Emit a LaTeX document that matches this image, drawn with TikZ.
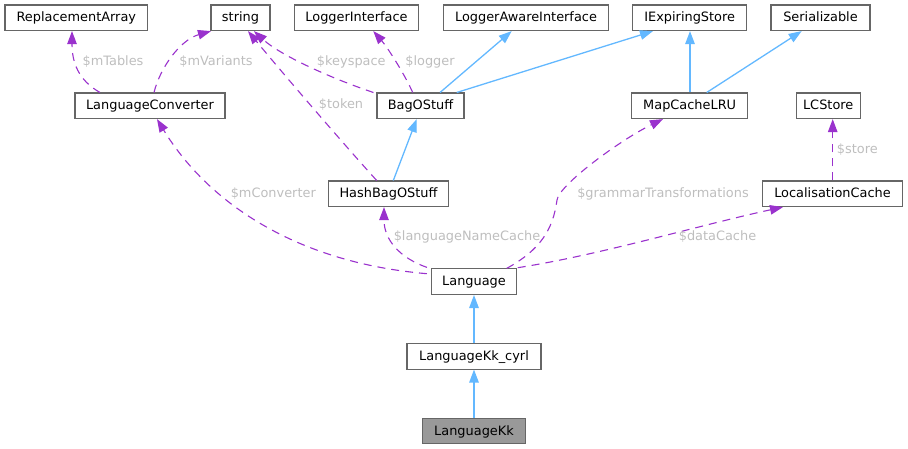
\documentclass[tikz,border=0pt]{standalone}
\usepackage{fontspec}
\setmainfont{DejaVu Sans}
\usetikzlibrary{arrows.meta}
\definecolor{inhcol}{HTML}{63B8FF}
\definecolor{usecol}{HTML}{9A32CD}
\definecolor{lblcol}{HTML}{BEBEBE}
\definecolor{bordcol}{HTML}{666666}
\definecolor{focuscol}{HTML}{999999}
\tikzset{
  cls/.style={draw=bordcol, line width=1.1pt, fill=white, minimum height=25.5pt, inner sep=0pt,
    font=\fontsize{12.9pt}{14pt}\selectfont, text height=9.4pt, text depth=1pt},
  focusbox/.style={cls, fill=focuscol},
  inh/.style={draw=inhcol, line width=1.3pt, -{Triangle[length=13pt,width=9.5pt]}, color=inhcol},
  usedge/.style={draw=usecol, line width=1.1pt, dash pattern=on 8pt off 6pt, -{Triangle[length=13pt,width=9.5pt]}, color=usecol},
  lbl/.style={text=lblcol, inner sep=0pt, font=\fontsize{12.9pt}{14pt}\selectfont, text height=9.4pt, text depth=1pt}
}
\begin{document}
\begin{tikzpicture}[x=1pt,y=-1pt]
\useasboundingbox (0,0) rectangle (908,449);
% nodes
\node[cls, minimum width=142.7pt] (ra)  at (76.3,17.8) {ReplacementArray};
\node[cls, minimum width=59pt]    (str) at (240.5,17.8) {string};
\node[cls, minimum width=124.4pt] (li)  at (356.5,17.8) {LoggerInterface};
\node[cls, minimum width=165.4pt] (lai) at (526,17.8) {LoggerAwareInterface};
\node[cls, minimum width=114pt]   (ies) at (689.7,17.8) {IExpiringStore};
\node[cls, minimum width=99pt]    (ser) at (820.5,17.8) {Serializable};
\node[cls, minimum width=150pt]   (lc)  at (150,105.8) {LanguageConverter};
\node[cls, minimum width=87pt]    (bag) at (420.5,105.8) {BagOStuff};
\node[cls, minimum width=116pt]   (mc)  at (689.7,105.8) {MapCacheLRU};
\node[cls, minimum width=63.7pt]  (lcs) at (828.2,105.8) {LCStore};
\node[cls, minimum width=120.4pt] (hb)  at (388.5,193.8) {HashBagOStuff};
\node[cls, minimum width=140.4pt] (loc) at (832.5,193.8) {LocalisationCache};
\node[cls, minimum width=85pt]    (la)  at (474,281.7) {Language};
\node[cls, minimum width=134pt]   (kkc) at (474,356.3) {LanguageKk\_cyrl};
\node[focusbox, minimum width=103.4pt] (kk) at (474,431) {LanguageKk};
% inheritance edges
\draw[inh] ([xshift=19.5pt]bag.north) -- ([xshift=-14.3pt]lai.south);
\draw[inh] ([xshift=36.2pt]bag.north) -- ([xshift=-36.7pt]ies.south);
\draw[inh] ([xshift=0.3pt]mc.north) -- ([xshift=0.3pt]ies.south);
\draw[inh] ([xshift=17pt]mc.north) -- ([xshift=-18.8pt]ser.south);
\draw[inh] ([xshift=4.8pt]hb.north) -- ([xshift=-3.8pt]bag.south);
\draw[inh] (kkc.north) -- (la.south);
\draw[inh] (kk.north) -- (kkc.south);
% usage edges
\draw[usedge] ([xshift=-50pt]lc.north) .. controls (78,80) and (72,62) .. ([xshift=-4.3pt]ra.south);
\draw[usedge] ([xshift=4pt]lc.north) .. controls (160,68) and (180,40) .. ([xshift=-29.5pt]str.south);
\draw[usedge] ([xshift=-3pt]bag.north west) .. controls (330,78) and (280,55) .. ([xshift=13.5pt]str.south);
\draw[usedge] ([xshift=-7.8pt]bag.north) .. controls (405,75) and (388,48) .. ([xshift=16.8pt]li.south);
\draw[usedge] ([xshift=-11.8pt]hb.north) .. controls (340,140) and (280,70) .. ([xshift=7.5pt]str.south);
\draw[usedge] ([shift={(-4pt,8pt)}]la.west) .. controls (290,262) and (205,198) .. ([xshift=7pt]lc.south);
\draw[usedge] ([shift={(-4pt,1pt)}]la.north west) .. controls (400,258) and (384,240) .. ([xshift=-4.5pt]hb.south);
\draw[usedge] ([xshift=32.7pt]la.north) .. controls (540,250) and (553,230) .. (557,200) .. controls (559,185) and (620,140) .. ([xshift=-26.7pt]mc.south);
\draw[usedge] ([shift={(0.7pt,0.7pt)}]la.north east) .. controls (600,255) and (700,225) .. ([xshift=-49.5pt]loc.south);
\draw[usedge] ([xshift=0.2pt]loc.north) -- ([xshift=4.5pt]lcs.south);
% labels
\node[lbl] (l1) at (113,61) {\$mTables};
\node[lbl] (l2) at (216,61) {\$mVariants};
\node[lbl] (l3) at (351.3,61) {\$keyspace};
\node[lbl] (l4) at (430,61) {\$logger};
\node[lbl] (l5) at (341,104.8) {\$token};
\node[lbl] (l6) at (273.3,193) {\$mConverter};
\node[lbl] (l7) at (467,236.8) {\$languageNameCache};
\node[lbl] (l8) at (663,193) {\$grammarTransformations};
\node[lbl] (l9) at (717.5,236.8) {\$dataCache};
\node[lbl] (l10) at (857.3,149) {\$store};
\end{tikzpicture}
\end{document}
